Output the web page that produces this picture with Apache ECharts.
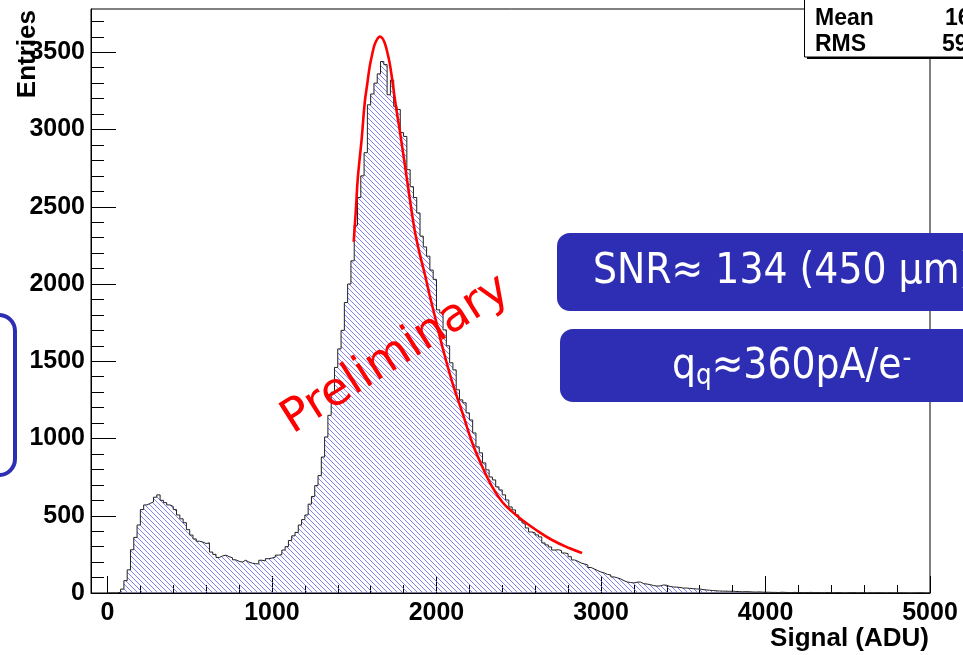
<!DOCTYPE html>
<html><head><meta charset="utf-8">
<script src="https://cdn.jsdelivr.net/npm/echarts@6/dist/echarts.min.js"></script>
<style>html,body{margin:0;padding:0;background:#fff;}#c{width:963px;height:655px;}</style>
</head><body><div id="c"></div>
<script>
// ---------------- data ----------------
const binStart = 0;
const binWidth = 20;
const binCounts = [
  0,0,0,5,25,80,150,280,360,440,
  540,570,580,590,620,635,600,585,570,560,
  540,505,480,455,410,375,350,335,330,320,
  325,265,250,230,240,245,235,228,215,205,
  200,212,200,193,190,188,212,208,222,226,
  232,245,248,278,300,340,370,392,440,475,
  505,575,625,695,760,880,1010,1150,1300,1460,
  1580,1700,1880,2000,2150,2380,2560,2700,2850,3160,
  3230,3300,3360,3440,3420,3225,3320,3150,3130,2980,
  2955,2740,2630,2560,2460,2310,2240,2180,2090,2030,
  1833,1813,1703,1600,1490,1444,1315,1250,1231,1166,
  1120,1036,946,907,842,797,751,732,687,667,
  635,602,557,538,505,473,453,421,395,389,
  376,363,324,311,298,278,280,275,259,255,
  235,214,205,194,188,181,165,155,145,136,
  130,120,117,104,98,91,80,71,68,65,
  70,71,60,58,54,48,45,46,52,50,
  42,39,38,36,32,32,30,28,26,26,
  22,20,18,16,14,13,12,12,11,12,
  10,9,8,9,8,7,6,7,6,5,
  5,4,4,3,5,4,3,3,4,3,
  3,2,3,4,2,3,2,2,3,2,
  2,3,2,1,2,2,3,1,2,2,
  1,2,1,2,2,1,1,2,1,1,
  2,1,1,0,1,1,2,1,0,1
];
const fitX = [1497,1510,1521,1533,1545,1564,1580,1594,1610,1624,1640,1655,1670,1685,1700,1715,1730,1745,1760,1776,1806,1836,1867,1897,1930,1958,2000,2036,2097,2158,2218,2279,2339,2400,2461,2521,2606,2703,2806,2885];
const fitY = [2273,2480,2675,2810,2934,3174,3300,3407,3490,3549,3585,3601,3592,3562,3505,3433,3330,3212,3105,2999,2785,2565,2351,2200,2060,1930,1749,1593,1360,1166,971,816,687,589,525,473,408,343,291,259];
const xMajorTicks = [0,1000,2000,3000,4000,5000];
const xMinorTicks = [200,400,600,800,1200,1400,1600,1800,2200,2400,2600,2800,3200,3400,3600,3800,4200,4400,4600,4800];
const yMajorTicks = [0,500,1000,1500,2000,2500,3000,3500];
const yMinorTicks = [100,200,300,400,600,700,800,900,1100,1200,1300,1400,1600,1700,1800,1900,2100,2200,2300,2400,2600,2700,2800,2900,3100,3200,3300,3400,3600,3700];
const xRange = [-100, 5000];
const yRange = [0, 3780];
const xTitle = 'Signal (ADU)';
const yTitle = 'Entries';
const statNames = ['Mean','RMS'];
const statValues = ['1657','592.3'];
const box1Text = 'SNR\u2248 134 (450 \u03bcm)';
const box2Main = 'q', box2Sub = 'q', box2Rest = '\u2248360pA/e', box2Sup = '-';
const watermark = 'Preliminary';

// ---------------- helpers ----------------
const histData = binCounts.map((c, i) => [binStart + i * binWidth, c]);
histData.push([binStart + binCounts.length * binWidth, binCounts[binCounts.length - 1]]);
const fitData = fitX.map((x, i) => [x, fitY[i]]);

function hatch() {
  const s = 5;
  const c = document.createElement('canvas');
  c.width = s; c.height = s;
  const g = c.getContext('2d');
  g.strokeStyle = '#6c6cfb';
  g.lineWidth = 0.85;
  [-s, 0, s].forEach(x0 => {
    g.beginPath(); g.moveTo(x0 - 2, -2); g.lineTo(x0 + s + 2, s + 2); g.stroke();
  });
  return c;
}
const mctx = document.createElement('canvas').getContext('2d');
function tw(font, s) { mctx.font = font; return mctx.measureText(s).width; }

const F = '"DejaVu Sans"';
const mainFont = '43px ' + F, subFont = '28px ' + F;
const wq = tw(mainFont, box2Main), wsq = tw(subFont, box2Sub), wr = tw(mainFont, box2Rest);
const boxBlue = '#2e2eb4';
const axFont = { fontFamily: 'Liberation Sans', fontWeight: 'bold', fontSize: 25, color: '#000', formatter: v => String(v) };

const chart = echarts.init(document.getElementById('c'));
chart.setOption({
  animation: false,
  grid: { left: 91, right: 33, top: 9, bottom: 62, show: true, borderColor: '#000', borderWidth: 1 },
  xAxis: [
    { type: 'value', min: xRange[0], max: xRange[1], position: 'bottom',
      axisLine: { show: true, onZero: false, lineStyle: { color: '#000', width: 1 } },
      axisTick: { show: true, inside: true, length: 17, customValues: xMajorTicks, lineStyle: { color: '#000' } },
      axisLabel: Object.assign({ customValues: xMajorTicks, margin: 8 }, axFont),
      splitLine: { show: false } },
    { type: 'value', min: xRange[0], max: xRange[1], position: 'bottom',
      axisLine: { show: false, onZero: false },
      axisTick: { show: true, inside: true, length: 8, customValues: xMinorTicks, lineStyle: { color: '#000' } },
      axisLabel: { show: false }, splitLine: { show: false } }
  ],
  yAxis: [
    { type: 'value', min: yRange[0], max: yRange[1], position: 'left',
      axisLine: { show: true, onZero: false, lineStyle: { color: '#000', width: 1 } },
      axisTick: { show: true, inside: true, length: 25, customValues: yMajorTicks, lineStyle: { color: '#000' } },
      axisLabel: Object.assign({ customValues: yMajorTicks, margin: 6 }, axFont),
      splitLine: { show: false } },
    { type: 'value', min: yRange[0], max: yRange[1], position: 'left',
      axisLine: { show: false, onZero: false },
      axisTick: { show: true, inside: true, length: 13, customValues: yMinorTicks, lineStyle: { color: '#000' } },
      axisLabel: { show: false }, splitLine: { show: false } }
  ],
  series: [
    { type: 'line', step: 'end', data: histData, symbol: 'none', xAxisIndex: 0, yAxisIndex: 0,
      lineStyle: { color: '#222', width: 1 },
      areaStyle: { color: { image: hatch(), repeat: 'repeat' }, opacity: 1 }, z: 2 },
    { type: 'line', data: fitData, symbol: 'none', smooth: 0.4, xAxisIndex: 0, yAxisIndex: 0,
      lineStyle: { color: '#ff0000', width: 2.6 }, z: 3 }
  ],
  graphic: [
    { type: 'rect', shape: { x: -60, y: 315, width: 75, height: 160, r: 16 },
      style: { fill: 'none', stroke: boxBlue, lineWidth: 4 }, z: 10 },
    { type: 'rect', shape: { x: 807, y: -5, width: 200, height: 64 }, style: { fill: '#000' }, z: 10 },
    { type: 'rect', shape: { x: 804.5, y: -5, width: 200, height: 62 }, style: { fill: '#fff', stroke: '#000', lineWidth: 1 }, z: 11 },
    { type: 'text', x: 815, y: 18.5, z: 12, style: { text: statNames[0], font: 'bold 23px "Liberation Sans"', fill: '#000', textVerticalAlign: 'middle' } },
    { type: 'text', x: 815, y: 45, z: 12, style: { text: statNames[1], font: 'bold 23px "Liberation Sans"', fill: '#000', textVerticalAlign: 'middle' } },
    { type: 'text', x: 945, y: 18.5, z: 12, style: { text: statValues[0], font: 'bold 23px "Liberation Sans"', fill: '#000', textVerticalAlign: 'middle' } },
    { type: 'text', x: 942, y: 45, z: 12, style: { text: statValues[1], font: 'bold 23px "Liberation Sans"', fill: '#000', textVerticalAlign: 'middle' } },
    { type: 'rect', shape: { x: 557, y: 233, width: 460, height: 78, r: 13 }, style: { fill: boxBlue }, z: 10 },
    { type: 'text', x: 593, y: 272, scaleX: 0.88, z: 11,
      style: { text: box1Text, font: mainFont, fill: '#fff', textVerticalAlign: 'middle' } },
    { type: 'rect', shape: { x: 560, y: 329, width: 460, height: 73, r: 13 }, style: { fill: boxBlue }, z: 10 },
    { type: 'group', x: 672, y: 367, scaleX: 0.88, z: 11, children: [
      { type: 'text', x: 0, y: 0, z: 11, style: { text: box2Main, font: mainFont, fill: '#fff', textVerticalAlign: 'middle' } },
      { type: 'text', x: wq, y: 10, z: 11, style: { text: box2Sub, font: subFont, fill: '#fff', textVerticalAlign: 'middle' } },
      { type: 'text', x: wq + wsq, y: 0, z: 11, style: { text: box2Rest, font: mainFont, fill: '#fff', textVerticalAlign: 'middle' } },
      { type: 'text', x: wq + wsq + wr + 1, y: -7, z: 11, style: { text: box2Sup, font: subFont, fill: '#fff', textVerticalAlign: 'middle' } }
    ] },
    { type: 'text', x: 396, y: 355, rotation: 32.2 * Math.PI / 180, z: 20,
      style: { text: watermark, font: '46px ' + F, fill: '#ff0000', textAlign: 'center', textVerticalAlign: 'middle' } },
    { type: 'text', x: 929, y: 639, z: 12,
      style: { text: xTitle, font: 'bold 26px "Liberation Sans"', fill: '#000', textAlign: 'right', textVerticalAlign: 'middle' } },
    { type: 'text', x: 27.5, y: 10, rotation: Math.PI / 2, z: 12,
      style: { text: yTitle, font: 'bold 26px "Liberation Sans"', fill: '#000', textAlign: 'right', textVerticalAlign: 'middle' } }
  ]
});
</script>
</body></html>
